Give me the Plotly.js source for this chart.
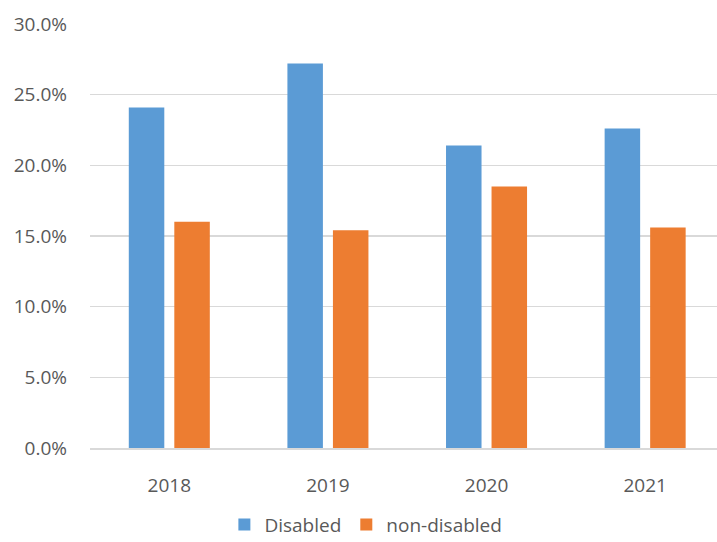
<!DOCTYPE html>
<html>
<head>
<meta charset="utf-8">
<script src="https://cdn.plot.ly/plotly-3.0.1.min.js"></script>
<style>html,body{margin:0;padding:0;background:#fff;}#chart{width:717px;height:542px;}</style>
</head>
<body>
<div id="chart"></div>
<script>
const years = ['2018', '2019', '2020', '2021'];
const disabled = [24.1, 27.2, 21.4, 22.6];
const nonDisabled = [16.0, 15.4, 18.5, 15.6];
const seriesNames = ['Disabled', 'non-disabled'];
const yTicks = [0, 5, 10, 15, 20, 25, 30];
const yTickLabels = ['0.0%', '5.0%', '10.0%', '15.0%', '20.0%', '25.0%', '30.0%'];

const font = {family: 'Open Sans, Liberation Sans, sans-serif', size: 19, color: '#595959'};

const traces = [
  {type: 'bar', name: seriesNames[0], x: years, y: disabled, marker: {color: '#5B9BD5'}, hoverinfo: 'skip'},
  {type: 'bar', name: seriesNames[1], x: years, y: nonDisabled, marker: {color: '#ED7D31'}, hoverinfo: 'skip'}
];

const layout = {
  width: 717, height: 542,
  margin: {l: 90, r: 0, t: 24, b: 94, pad: 0},
  paper_bgcolor: '#fff', plot_bgcolor: '#fff',
  font: font,
  barmode: 'group',
  bargap: 0.426,
  bargroupgap: 0.22,
  showlegend: true,
  legend: {orientation: 'h', x: 0.44, xanchor: 'center', xref: 'paper', y: 0.032, yref: 'container', yanchor: 'middle', font: font, itemwidth: 30, traceorder: 'normal'},
  xaxis: {type: 'category', range: [-0.5, 3.453], showgrid: false, showline: true, linecolor: '#d9d9d9', linewidth: 1.5,
          ticks: '', ticklabelstandoff: 20, tickfont: font, fixedrange: true},
  yaxis: {range: [0, 30], tickvals: yTicks, ticktext: yTickLabels, showgrid: true, gridcolor: '#d9d9d9', gridwidth: 1.5,
          zeroline: false, showline: false, ticks: '', ticklabelstandoff: 22, tickfont: font, fixedrange: true}
};

Plotly.newPlot('chart', traces, layout, {displayModeBar: false, staticPlot: true});
</script>
</body>
</html>
